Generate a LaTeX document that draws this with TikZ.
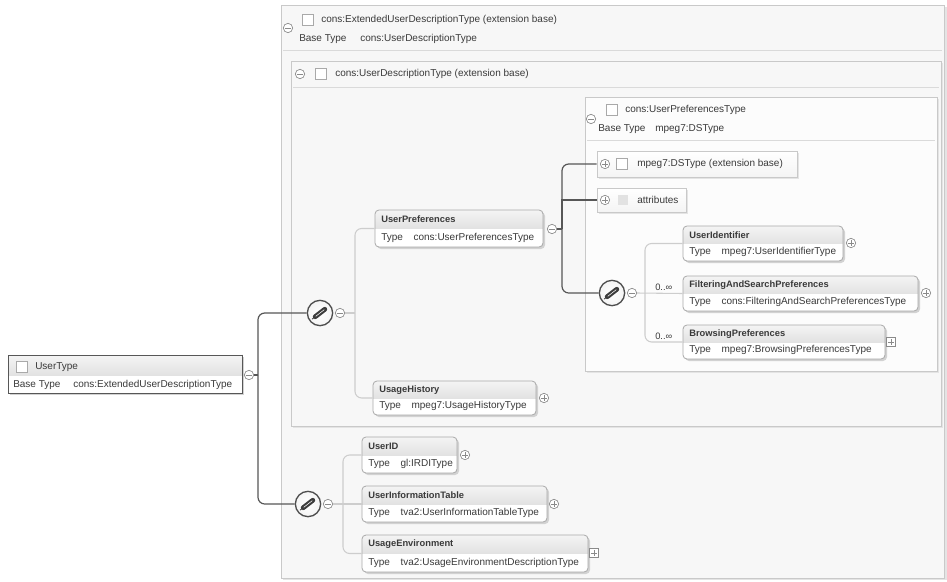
\documentclass[tikz,border=0pt]{standalone}
\usepackage{fontspec}
\setmainfont{Liberation Sans}

\definecolor{txt}{HTML}{3A3A3A}
\definecolor{panelfill}{HTML}{F7F7F7}
\definecolor{panelline}{HTML}{C9C9C9}
\definecolor{panelshadow}{HTML}{E4E4E4}
\definecolor{sepline}{HTML}{DADADA}
\definecolor{eline}{HTML}{A9A9A9}
\definecolor{eshadow}{HTML}{D2D2D2}
\definecolor{ehead1}{HTML}{F4F4F4}
\definecolor{ehead2}{HTML}{E2E2E2}
\definecolor{icon}{HTML}{8A8A8A}
\definecolor{connc}{HTML}{575757}
\definecolor{treec}{HTML}{CDCDCD}
\definecolor{seqline}{HTML}{4E4E4E}
\definecolor{seqmark}{HTML}{3C3C3C}

\tikzset{
  panel/.style={draw=panelline, fill=panelfill, line width=0.6pt},
  pshadow/.style={fill=panelshadow},
  sepl/.style={draw=sepline, line width=0.5pt},
  lbl/.style={font=\fontsize{7.5}{9}\selectfont, text=txt, inner sep=0, anchor=west},
  ttl/.style={lbl, font=\fontsize{7}{9}\selectfont\bfseries},
  mult/.style={lbl, font=\fontsize{7}{9}\selectfont},
  chk/.style={rectangle, draw=eline, fill=white, line width=0.5pt, minimum size=8pt, inner sep=0},
  blob/.style={rectangle, fill=ehead2, minimum size=8pt, inner sep=0},
  ebox/.style={draw=eline, rounded corners=3pt, line width=0.6pt, inner sep=0},
  sbox/.style={draw=panelline, line width=0.6pt, top color=white, bottom color=ehead1},
  minus/.style={circle, draw=icon, fill=white, line width=0.5pt, minimum size=7pt, inner sep=0,
    path picture={\draw[icon, line width=0.6pt]
      ([xshift=-2pt]path picture bounding box.center) -- ([xshift=2pt]path picture bounding box.center);}},
  plus/.style={circle, draw=icon, fill=white, line width=0.5pt, minimum size=7pt, inner sep=0,
    path picture={\draw[icon, line width=0.6pt]
      ([xshift=-2pt]path picture bounding box.center) -- ([xshift=2pt]path picture bounding box.center)
      ([yshift=-2pt]path picture bounding box.center) -- ([yshift=2pt]path picture bounding box.center);}},
  sqplus/.style={rectangle, draw=icon, fill=white, line width=0.5pt, minimum size=6.5pt, inner sep=0,
    path picture={\draw[icon, line width=0.6pt]
      ([xshift=-2pt]path picture bounding box.center) -- ([xshift=2pt]path picture bounding box.center)
      ([yshift=-2pt]path picture bounding box.center) -- ([yshift=2pt]path picture bounding box.center);}},
  seq/.style={circle, draw=seqline, line width=1pt, inner color=white, outer color=ehead1,
    minimum size=19pt, inner sep=0,
    path picture={
      \draw[seqmark, line width=3.6pt, line cap=round]
        ([shift={(-3.6pt,-2.8pt)}]path picture bounding box.center) --
        ([shift={(3.6pt,2.8pt)}]path picture bounding box.center);
      \draw[white, line width=0.4pt]
        ([shift={(-3.2pt,-2.5pt)}]path picture bounding box.center) --
        ([shift={(3.2pt,2.5pt)}]path picture bounding box.center);
      \draw[seqmark, line width=0.6pt]
        ([shift={(-3.6pt,-2.8pt)}]path picture bounding box.center) --
        ([shift={(-6pt,-4.6pt)}]path picture bounding box.center);}},
  conn/.style={draw=connc, line width=0.9pt, rounded corners=5pt},
  tree/.style={draw=treec, line width=0.8pt, rounded corners=5pt},
}

% element box: name, x1, y1, x2, y2, element name, type name
\newcommand\xsdelem[7]{%
  \fill[eshadow, rounded corners=3pt] (#2+2,#3+2) rectangle (#4+2,#5+2);
  \begin{scope}
    \clip[rounded corners=3pt] (#2,#3) rectangle (#4,#5);
    \fill[white] (#2,#3) rectangle (#4,#5);
    \shade[top color=ehead1, bottom color=ehead2] (#2,#3) rectangle (#4,{(#3+#5)/2});
  \end{scope}
  \node[ebox, minimum width={(#4-#2)*0.75pt}, minimum height={(#5-#3)*0.75pt}]
    (#1) at ({(#2+#4)/2},{(#3+#5)/2}) {};
  \node[ttl] (#1-name) at (#2+6,#3+9) {#6};
  \node[lbl] (#1-type) at (#2+6,#5-9) {Type\hspace{8pt}#7};
}

\begin{document}
\begin{tikzpicture}[x=0.75pt,y=-0.75pt]
\useasboundingbox (0,0) rectangle (947,582);
\fill[white] (0,0) rectangle (947,582);

% ---- cons:ExtendedUserDescriptionType panel
\fill[pshadow] (283,7) rectangle (947,580);
\draw[panel] (281,5) rectangle (944,578);
\draw[sepl] (283,50) -- (942,50);
\node[minus] (ext1-x) at (288,28) {};
\node[chk] (ext1-c) at (308,20) {};
\node[lbl] (ext1-t) at (321,20) {cons:ExtendedUserDescriptionType (extension base)};
\node[lbl] (ext1-b) at (299,39) {Base Type};
\node[lbl] (ext1-bt) at (360,39) {cons:UserDescriptionType};

% ---- cons:UserDescriptionType panel
\fill[pshadow] (293,63) rectangle (943,428);
\draw[panel] (291,61) rectangle (941,426);
\draw[sepl] (293,87) -- (939,87);
\node[minus] (ext2-x) at (300,74) {};
\node[chk] (ext2-c) at (321,74) {};
\node[lbl] (ext2-t) at (335,74) {cons:UserDescriptionType (extension base)};

% ---- cons:UserPreferencesType panel
\fill[pshadow] (587,99) rectangle (939,373);
\draw[panel, fill=white!60!panelfill] (585,97) rectangle (937,371);
\draw[sepl] (587,140) -- (935,140);
\node[minus] (ext3-x) at (591,119) {};
\node[chk] (ext3-c) at (612,110) {};
\node[lbl] (ext3-t) at (625,110) {cons:UserPreferencesType};
\node[lbl] (ext3-b) at (598,129) {Base Type};
\node[lbl] (ext3-bt) at (655,129) {mpeg7:DSType};

% extension base and attribute groups
\fill[panelshadow] (599,153) rectangle (799,179);
\node[sbox, minimum width=150pt, minimum height=19.5pt, inner sep=0] (ds) at (697,164) {};
\node[plus] (ds-x) at (605,164) {};
\node[chk] (ds-c) at (622,164) {};
\node[lbl] (ds-t) at (637,164) {mpeg7:DSType (extension base)};

\fill[panelshadow] (599,190) rectangle (688,214);
\node[sbox, minimum width=66.75pt, minimum height=18pt, inner sep=0] (attr) at (641.5,200) {};
\node[plus] (attr-x) at (605,200) {};
\node[blob] (attr-c) at (623,200) {};
\node[lbl] (attr-t) at (637,200) {attributes};

% ---- elements
\xsdelem{up}{375}{210}{543}{247}{UserPreferences}{cons:UserPreferencesType}
\node[minus] (up-x) at (552,229) {};
\xsdelem{uh}{373}{381}{536}{415}{UsageHistory}{mpeg7:UsageHistoryType}
\node[plus] (uh-x) at (544,398) {};

\xsdelem{uid}{683}{226}{843}{261}{UserIdentifier}{mpeg7:UserIdentifierType}
\node[plus] (uid-x) at (851,243) {};
\xsdelem{fsp}{683}{276}{918}{311}{FilteringAndSearchPreferences}{cons:FilteringAndSearchPreferencesType}
\node[plus] (fsp-x) at (926,293) {};
\xsdelem{bp}{683}{325}{885}{359}{BrowsingPreferences}{mpeg7:BrowsingPreferencesType}
\node[sqplus] (bp-x) at (891,342) {};

\xsdelem{usr}{362}{437}{457}{473}{UserID}{gl:IRDIType}
\node[plus] (usr-x) at (465,455) {};
\xsdelem{uit}{362}{486}{547}{522}{UserInformationTable}{tva2:UserInformationTableType}
\node[plus] (uit-x) at (554,504) {};
\xsdelem{ue}{362}{535}{588}{572}{UsageEnvironment}{tva2:UsageEnvironmentDescriptionType}
\node[sqplus] (ue-x) at (594,553) {};

% ---- UserType
\fill[eshadow] (10,357) rectangle (244,395);
\begin{scope}
  \clip (8,355) rectangle (242,393);
  \fill[white] (8,355) rectangle (242,393);
  \shade[top color=ehead1, bottom color=ehead2] (8,355) rectangle (242,375);
\end{scope}
\node[draw=connc, line width=0.7pt, minimum width=175.5pt, minimum height=28.5pt, inner sep=0] (ut) at (125,374) {};
\draw[connc, line width=1.4pt] (ut.north east) -- (ut.south east);
\node[chk] (ut-c) at (22,367) {};
\node[lbl] (ut-t) at (35,367) {UserType};
\node[lbl] (ut-b) at (13,385) {Base Type};
\node[lbl] (ut-bt) at (73,385) {cons:ExtendedUserDescriptionType};
\node[minus] (ut-x) at (249,375) {};

% ---- sequence compositors
\node[seq] (s1) at (320,313) {};
\node[minus] (s1-x) at (340,313) {};
\node[seq] (s2) at (308,504) {};
\node[minus] (s2-x) at (328,504) {};
\node[seq] (s3) at (612,293) {};
\node[minus] (s3-x) at (632,293) {};

% ---- junction points
\coordinate (j0) at (258,375);
\coordinate (j1) at (562,229);
\coordinate (j2) at (355,313);
\coordinate (j3) at (645,293);
\coordinate (j4) at (343,504);

% dark connectors
\draw[conn] (ut-x.east) -- (j0);
\draw[conn] (j0) |- (s1.west);
\draw[conn] (j0) |- (s2.west);
\draw[conn] (up-x.east) -- (j1);
\draw[conn] (j1) |- (ds.west);
\draw[conn, sharp corners] (j1) |- (attr.west);
\draw[conn] (j1) |- (s3.west);

% light tree lines
\draw[tree] (s1-x.east) -- (j2);
\draw[tree] (j2) |- (up.west);
\draw[tree] (j2) |- (uh.west);
\draw[tree] (s3-x.east) -- (fsp.west);
\draw[tree] (j3) |- (uid.west);
\draw[tree] (j3) |- (bp.west);
\draw[tree] (s2-x.east) -- (uit.west);
\draw[tree] (j4) |- (usr.west);
\draw[tree] (j4) |- (ue.west);

% occurrence labels
\node[mult] (fsp-m) at (655,287) {0..∞};
\node[mult] (bp-m) at (655,336) {0..∞};
\end{tikzpicture}
\end{document}
